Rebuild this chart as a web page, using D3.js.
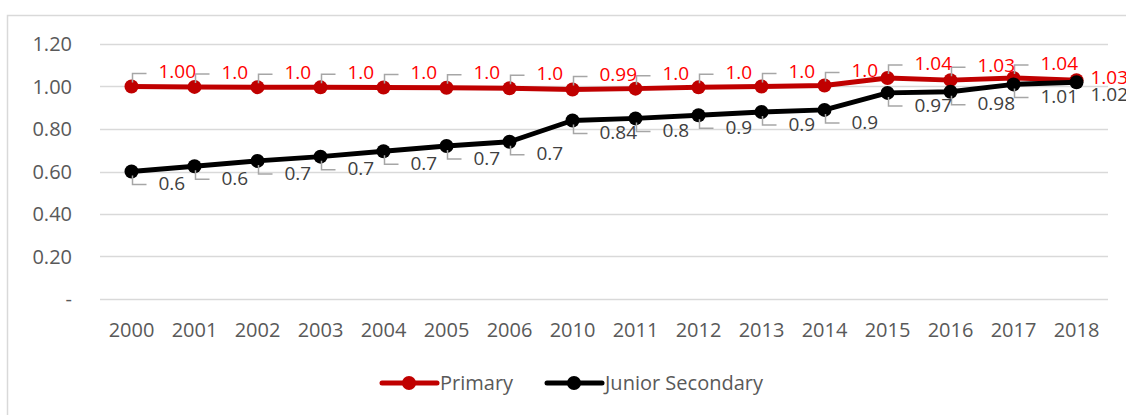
<!DOCTYPE html>
<html>
<head>
<meta charset="utf-8">
<script src="https://cdn.jsdelivr.net/npm/d3@7/dist/d3.min.js"></script>
<style>
  body { margin: 0; background: #fff; }
  text { font-family: "Open Sans", "Liberation Sans", sans-serif; }
</style>
</head>
<body>
<script>
// chart data
var years = ["2000", "2001", "2002", "2003", "2004", "2005", "2006", "2010",
	"2011", "2012", "2013", "2014", "2015", "2016", "2017", "2018"];
var primary = [1.00, 0.998, 0.997, 0.996, 0.995, 0.994, 0.992, 0.986,
	0.99, 0.996, 1.0, 1.005, 1.04, 1.03, 1.04, 1.03];
var primaryLabels = ["1.00", "1.0", "1.0", "1.0", "1.0", "1.0", "1.0", "0.99",
	"1.0", "1.0", "1.0", "1.0", "1.04", "1.03", "1.04", "1.03"];
var junior = [0.60, 0.625, 0.65, 0.67, 0.695, 0.72, 0.74, 0.84,
	0.85, 0.865, 0.88, 0.89, 0.97, 0.975, 1.01, 1.02];
var juniorLabels = ["0.6", "0.6", "0.7", "0.7", "0.7", "0.7", "0.7", "0.84",
	"0.8", "0.9", "0.9", "0.9", "0.97", "0.98", "1.01", "1.02"];
var yTicks = [0, 0.2, 0.4, 0.6, 0.8, 1.0, 1.2];

var fullWidth = 1126, fullHeight = 415;
var margin = {top: 44, right: 18, bottom: 116, left: 100},
	width = fullWidth - margin.left - margin.right,
	height = fullHeight - margin.top - margin.bottom;

var svg = d3.select("body").append("svg")
	.attr("width", fullWidth)
	.attr("height", fullHeight);

// chart frame (only top and left visible in crop)
svg.append("path")
	.attr("d", "M7.5,415 V15.5 H1126")
	.attr("fill", "none")
	.attr("stroke", "#D9D9D9")
	.attr("stroke-width", 1.5);

var g = svg.append("g")
	.attr("transform", "translate(" + margin.left + "," + margin.top + ")");

var x = d3.scaleBand().domain(years).range([0, width]);
var y = d3.scaleLinear().domain([0, 1.2]).range([height, 0]);
var cx = function(d, i) { return x(years[i]) + x.bandwidth() / 2; };

// gridlines
g.selectAll(".grid")
	.data(yTicks)
	.enter().append("line")
		.attr("class", "grid")
		.attr("x1", 0)
		.attr("x2", width)
		.attr("y1", function(d) { return Math.round(y(d)) + 0.5; })
		.attr("y2", function(d) { return Math.round(y(d)) + 0.5; })
		.attr("stroke", "#D9D9D9")
		.attr("stroke-width", 1.5);

// y labels
g.selectAll(".ylab")
	.data(yTicks)
	.enter().append("text")
		.attr("class", "ylab")
		.attr("x", -28)
		.attr("y", function(d) { return y(d); })
		.attr("dy", "0.35em")
		.attr("text-anchor", "end")
		.attr("fill", "#595959")
		.style("font-size", "20px")
		.text(function(d) { return d === 0 ? "-" : d3.format(".2f")(d); });

// x labels
g.selectAll(".xlab")
	.data(years)
	.enter().append("text")
		.attr("class", "xlab")
		.attr("x", function(d) { return x(d) + x.bandwidth() / 2; })
		.attr("y", height + 31)
		.attr("dy", "0.35em")
		.attr("text-anchor", "middle")
		.attr("fill", "#595959")
		.style("font-size", "20px")
		.text(function(d) { return d; });

var line = d3.line()
	.x(cx)
	.y(function(d) { return y(d); });

var series = [
	{name: "Primary", values: primary, labels: primaryLabels, color: "#C00000", labelColor: "#FF0000", up: true},
	{name: "Junior Secondary", values: junior, labels: juniorLabels, color: "#000000", labelColor: "#404040", up: false}
];

series.forEach(function(s) {
	g.append("path")
		.datum(s.values)
		.attr("fill", "none")
		.attr("stroke", s.color)
		.attr("stroke-width", 5)
		.attr("stroke-linejoin", "round")
		.attr("d", line);

	g.selectAll(null)
		.data(s.values)
		.enter().append("circle")
			.attr("cx", cx)
			.attr("cy", function(d) { return y(d); })
			.attr("r", 7)
			.attr("fill", s.color);
});

// data labels with leader lines (last one sits closer, no leader)
var last = years.length - 1;
series.forEach(function(s) {
	var sign = s.up ? -1 : 1;
	g.selectAll(null)
		.data(s.values.slice(0, last))
		.enter().append("path")
			.attr("d", function(d, i) {
				var px = cx(d, i) + 1, py = y(d);
				return "M" + px + "," + (py + sign * 4) + " V" + (py + sign * 13) + " H" + (px + 14);
			})
			.attr("fill", "none")
			.attr("stroke", "#A6A6A6")
			.attr("stroke-width", 1.5);

	g.selectAll(null)
		.data(s.values)
		.enter().append("text")
			.attr("x", function(d, i) { return cx(d, i) + (i === last ? 14 : 27); })
			.attr("y", function(d, i) {
				if (i === last) return y(d) + (s.up ? -3 : 12);
				return y(d) + (s.up ? -15 : 12);
			})
			.attr("dy", "0.35em")
			.attr("fill", s.labelColor)
			.style("font-size", "19px")
			.text(function(d, i) { return s.labels[i]; });
});

// legend
var legend = svg.selectAll(".legend")
	.data(series)
	.enter().append("g")
		.attr("class", "legend")
		.attr("transform", function(d, i) {
			return "translate(" + (i === 0 ? 382 : 547) + ",383)";
		});

legend.append("line")
	.attr("x1", 0)
	.attr("x2", 55)
	.attr("stroke", function(d) { return d.color; })
	.attr("stroke-width", 5)
	.attr("stroke-linecap", "round");

legend.append("circle")
	.attr("cx", 27)
	.attr("r", 7)
	.attr("fill", function(d) { return d.color; });

legend.append("text")
	.attr("x", 58)
	.attr("dy", "0.35em")
	.attr("fill", "#595959")
	.style("font-size", "20px")
	.text(function(d) { return d.name; });
</script>
</body>
</html>
